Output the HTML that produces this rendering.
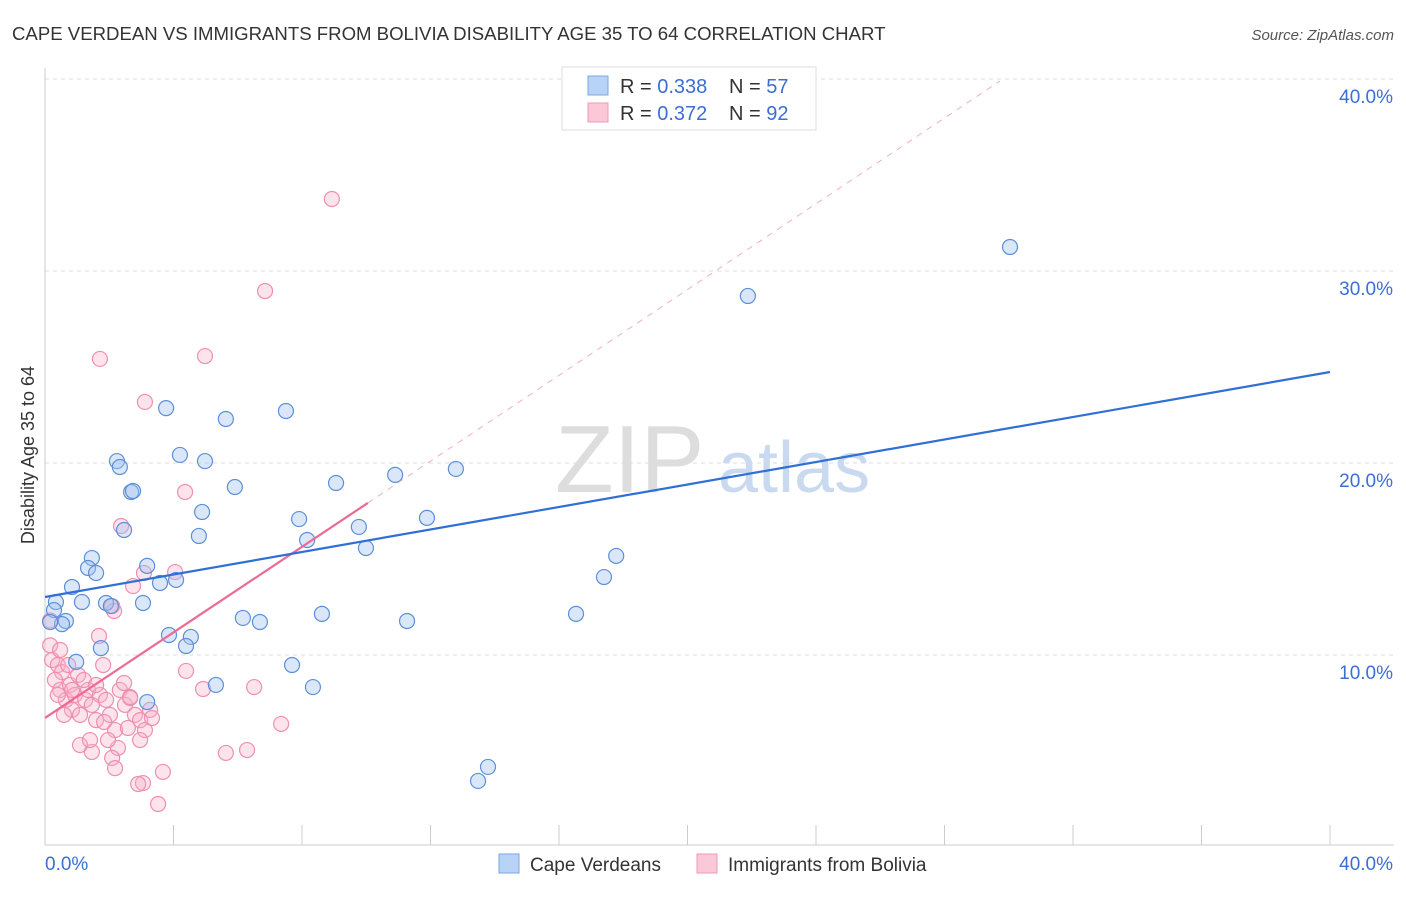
<!DOCTYPE html>
<html><head><meta charset="utf-8"><style>
body{margin:0;background:#fff;font-family:"Liberation Sans",sans-serif;}
svg text{font-family:"Liberation Sans",sans-serif;}
</style></head><body>
<svg id="chart" width="1406" height="892" xmlns="http://www.w3.org/2000/svg">
<text x="12" y="40" font-size="18.6" fill="#333">CAPE VERDEAN VS IMMIGRANTS FROM BOLIVIA DISABILITY AGE 35 TO 64 CORRELATION CHART</text>
<text x="1394" y="40" font-size="15" fill="#555" font-style="italic" text-anchor="end">Source: ZipAtlas.com</text>
<g id="grid"></g>
<g><text x="555" y="492" font-size="96" fill="#ddd" font-family="Liberation Serif">ZIP</text><text x="718" y="492" font-size="72" fill="#c9daf0">atlas</text></g>
<text transform="translate(34,455) rotate(-90)" font-size="18" fill="#333" text-anchor="middle">Disability Age 35 to 64</text>
<g id="marks"></g>
<g>
<rect x="562" y="67" width="254" height="63" fill="#fff" stroke="#ddd"/>
<rect x="588" y="76" width="20" height="19" fill="#b8d3f5" stroke="#7aa7e3"/>
<rect x="588" y="103" width="20" height="19" fill="#fbc8d8" stroke="#ef9ab6"/>
<text x="620" y="93" font-size="20" fill="#333">R = <tspan fill="#3b6fd4">0.338</tspan></text>
<text x="729" y="93" font-size="20" fill="#333">N = <tspan fill="#3b6fd4">57</tspan></text>
<text x="620" y="120" font-size="20" fill="#333">R = <tspan fill="#3b6fd4">0.372</tspan></text>
<text x="729" y="120" font-size="20" fill="#333">N = <tspan fill="#3b6fd4">92</tspan></text>
</g>
<g>
<rect x="499" y="854" width="20" height="19" fill="#b8d3f5" stroke="#7aa7e3"/>
<text x="530" y="871" font-size="19" fill="#333">Cape Verdeans</text>
<rect x="697" y="854" width="20" height="19" fill="#fbc8d8" stroke="#ef9ab6"/>
<text x="728" y="871" font-size="19" fill="#333">Immigrants from Bolivia</text>
</g>
</svg>
<script>
const yTicks=[10,20,30,40];
const xTickLabels=["0.0%","40.0%"];
const blueX=[30.04,21.88,3.77,5.63,7.50,4.20,4.98,2.24,2.33,2.68,2.74,5.91,9.06,10.90,12.79,4.89,7.91,11.89,9.77,2.46,4.79,8.16,9.99,17.78,1.46,3.18,1.34,1.59,17.40,3.58,4.08,0.84,0.34,1.15,1.90,2.05,3.05,8.62,16.53,6.16,6.69,11.27,0.28,0.65,0.53,0.16,3.86,4.54,4.39,1.74,0.97,7.69,5.32,8.34,3.18,13.79,13.48];
const blueY=[31.25,28.70,22.86,22.29,22.71,20.42,20.10,20.10,19.79,18.49,18.54,18.75,18.96,19.38,19.69,17.45,17.08,17.14,16.67,16.51,16.20,15.99,15.57,15.16,15.05,14.64,14.53,14.27,14.06,13.75,13.91,13.54,12.76,12.76,12.71,12.55,12.71,12.14,12.14,11.93,11.72,11.77,12.34,11.77,11.61,11.72,11.04,10.94,10.47,10.36,9.64,9.48,8.44,8.33,7.55,4.17,3.44];
const pinkX=[8.93,6.85,1.71,4.98,3.11,4.36,2.37,4.05,3.08,2.74,2.09,2.15,1.68,4.39,4.92,6.51,7.35,5.63,6.29,3.67,3.05,3.52,2.90,0.16,0.16,0.22,0.40,0.53,0.31,0.47,0.65,0.78,0.93,0.84,1.09,1.25,1.34,1.46,1.59,1.71,1.81,1.90,2.02,2.18,2.27,2.33,2.49,2.65,2.80,2.96,3.11,3.27,3.33,2.46,2.96,1.09,1.46,2.09,2.18,2.65,0.47,0.72,1.03,0.40,1.40,1.84,0.59,1.21,1.59,0.84,2.58,1.96];
const pinkY=[33.75,28.96,25.42,25.57,23.18,18.49,16.72,14.32,14.27,13.59,12.55,12.29,10.99,9.17,8.23,8.33,6.41,4.90,5.05,3.91,3.33,2.24,3.28,11.8,10.5,9.74,9.48,9.11,8.70,8.18,7.66,8.44,7.92,7.14,6.88,7.66,8.18,7.40,6.61,7.92,9.48,7.66,6.88,6.09,5.16,8.18,7.40,7.81,6.88,6.61,6.09,7.14,6.72,8.54,5.57,5.31,4.95,4.64,4.11,7.76,10.26,9.48,8.96,7.92,5.57,6.51,6.88,8.70,8.44,8.18,6.20,5.57];
const blueLine=[13.02,24.74];
const pinkLine=[6.72,17.92,39.9];
const pinkLineX=[0,10.05,29.73];
const NS="http://www.w3.org/2000/svg";
const X=v=>45+v/40*1285, Y=v=>847-v*19.2;
function mk(tag,attrs,parent){const e=document.createElementNS(NS,tag);for(const k in attrs)e.setAttribute(k,attrs[k]);parent.appendChild(e);return e;}
const grid=document.getElementById('grid'), marks=document.getElementById('marks');
yTicks.forEach(t=>{
 const l=mk('line',{x1:45,x2:1394,y1:Y(t),y2:Y(t),stroke:'#ddd','stroke-dasharray':'4,4'},grid);
 
 
 const tx=mk('text',{x:1393,y:Y(t)+24,'font-size':19,fill:'#3b6fd4','text-anchor':'end'},grid);tx.textContent=t.toFixed(1)+'%';
 
 
});
const ax=mk('line',{x1:45,x2:1394,y1:845,y2:845,stroke:'#ccc'},grid);


const ay=mk('line',{x1:45,x2:45,y1:68,y2:845,stroke:'#ccc'},grid);


for(let i=0;i<=10;i++){const t=mk('line',{x1:X(i*4),x2:X(i*4),y1:825,y2:845,stroke:'#ccc'},grid);
 
 }
xTickLabels.forEach((s,i)=>{const t=mk('text',{x:i?1393:45,y:870,'font-size':19,fill:'#3b6fd4','text-anchor':i?'end':'start'},grid);t.textContent=s;
 
 });
pinkX.forEach((x,i)=>{const c=mk('circle',{cx:X(x),cy:Y(pinkY[i]),r:7.5,fill:'rgba(248,175,200,0.35)',stroke:'#ef8fb0','stroke-width':1.2},marks);
 
 });
blueX.forEach((x,i)=>{const c=mk('circle',{cx:X(x),cy:Y(blueY[i]),r:7.5,fill:'rgba(160,195,240,0.4)',stroke:'#5d8fd8','stroke-width':1.2},marks);
 
 });
const pd=mk('line',{x1:X(pinkLineX[1]),y1:Y(pinkLine[1]),x2:X(pinkLineX[2]),y2:Y(pinkLine[2]),stroke:'#eeb0c4','stroke-dasharray':'6,6','stroke-width':1},marks);


const ps=mk('line',{x1:X(pinkLineX[0]),y1:Y(pinkLine[0]),x2:X(pinkLineX[1]),y2:Y(pinkLine[1]),stroke:'#ec6a93','stroke-width':2.2},marks);


const bl=mk('line',{x1:X(0),y1:Y(blueLine[0]),x2:X(40),y2:Y(blueLine[1]),stroke:'#2f6fd6','stroke-width':2.2},marks);


</script>
</body></html>
